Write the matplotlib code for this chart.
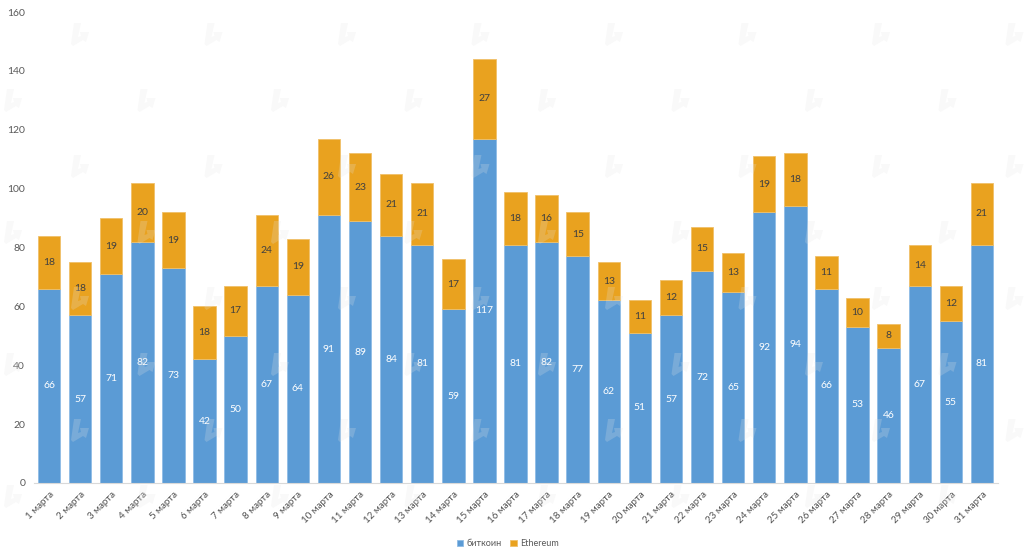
import numpy as np
import matplotlib
matplotlib.use('Agg')
import matplotlib.pyplot as plt
from matplotlib.patches import Polygon

plt.rcParams['font.family'] = ['Lato', 'DejaVu Sans']

days = [str(i) + ' марта' for i in range(1, 32)]
btc = [66, 57, 71, 82, 73, 42, 50, 67, 64, 91, 89, 84, 81, 59, 117, 81, 82, 77, 62, 51, 57, 72, 65, 92, 94, 66, 53, 46, 67, 55, 81]
eth = [18, 18, 19, 20, 19, 18, 17, 24, 19, 26, 23, 21, 21, 17, 27, 18, 16, 15, 13, 11, 12, 15, 13, 19, 18, 11, 10, 8, 14, 12, 21]

W, H = 1024, 557
fig = plt.figure(figsize=(W / 100, H / 100), dpi=100)
ax = fig.add_axes([33.5 / W, 1 - 483 / H, 964 / W, 471 / H])

x = np.arange(len(days))
b1 = ax.bar(x, btc, width=0.72, color='#5b9bd5', edgecolor='#8fbce6', linewidth=0.6, label='биткоин')
b2 = ax.bar(x, eth, width=0.72, bottom=btc, color='#e9a21f', edgecolor='#f0c069', linewidth=0.6, label='Ethereum')
ax.bar_label(b1, label_type='center', color='white', fontsize=7.5)
ax.bar_label(b2, label_type='center', color='#404040', fontsize=7.5)

ax.set_xlim(-0.5, 30.5)
ax.set_ylim(0, 160)
ax.set_yticks(range(0, 161, 20))
ax.set_xticks(x)
ax.set_xticklabels(days, rotation=45, ha='right', rotation_mode='anchor', fontsize=7, color='#505050')
ax.tick_params(axis='y', length=0, labelsize=7.5, labelcolor='#595959', pad=6)
ax.tick_params(axis='x', length=0, pad=5)
for s in ['top', 'right', 'left']:
    ax.spines[s].set_visible(False)
ax.spines['bottom'].set_color('#d9d9d9')

fig.legend(handles=[b1, b2], loc='lower center', bbox_to_anchor=(508 / W, 1 / H), ncol=2, frameon=False,
           fontsize=6.5, labelcolor='#595959', handlelength=0.7, handleheight=0.7, columnspacing=0.9, handletextpad=0.4)

# faint watermark logo, staggered rows
logo = [(-4, -12), (3, -12), (0, 2), (3, 1), (2, -3), (11, -3), (8, 7), (5, 5), (-5, 11), (-7, 9)]
for row in range(8):
    py = 35 + 66 * row
    for k in range(8):
        px = (78 if row % 2 == 0 else 11) + 133.5 * k
        pts = [((px + a) / W, 1 - (py + b) / H) for a, b in logo]
        fig.add_artist(Polygon(pts, closed=True, transform=fig.transFigure, facecolor='#e4e4e4', edgecolor='none', alpha=0.22))

fig.savefig('out.png', dpi=100)
